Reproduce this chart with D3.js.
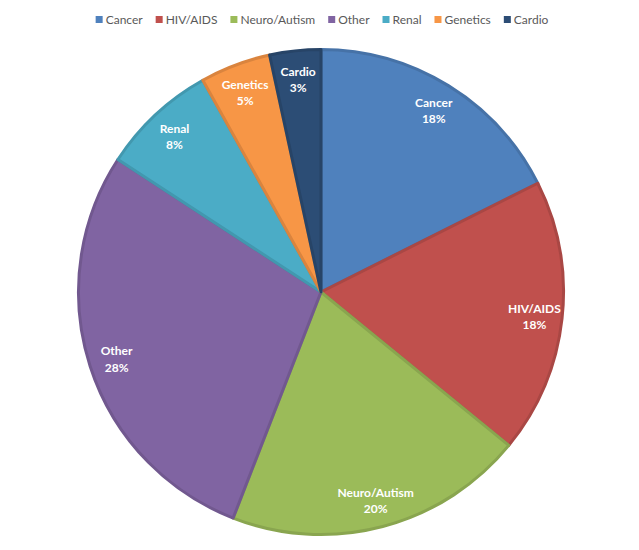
<!DOCTYPE html>
<html>
<head>
<meta charset="utf-8">
<script src="https://d3js.org/d3.v7.min.js"></script>
<style>
  body { margin: 0; background: #fff; }
  svg { display: block; }
</style>
</head>
<body>
<div id="pie"></div>
<script>
// data (shares in %, labels show rounded values)
const categories = ["Cancer", "HIV/AIDS", "Neuro/Autism", "Other", "Renal", "Genetics", "Cardio"];
const shares = [17.6, 18.3, 20.0, 28.3, 7.7, 4.7, 3.4];
const colors = ["#4F81BD", "#C0504D", "#9BBB59", "#8064A2", "#4BACC6", "#F79646", "#2C4D75"];

const width = 639, height = 550;
const cx = 321, cy = 292, radius = 244;

const data = categories.map((c, i) => ({ name: c, value: shares[i], color: colors[i] }));

const svg = d3.select('#pie')
  .append('svg')
  .attr('width', width)
  .attr('height', height);

const g = svg.append('g')
  .attr('transform', `translate(${cx}, ${cy})`);

const pie = d3.pie()
  .value(d => d.value)
  .sort(null);

const arc = d3.arc()
  .innerRadius(0)
  .outerRadius(radius - 1.5);

const labelArc = d3.arc()
  .innerRadius(radius * 0.88)
  .outerRadius(radius * 0.88);

const arcs = pie(data);

// slices, with a darker rim like the office bevel
g.selectAll('path.slice')
  .data(arcs)
  .enter()
  .append('path')
  .attr('class', 'slice')
  .attr('d', arc)
  .style('fill', d => d.data.color)
  .style('stroke', d => d3.color(d.data.color).darker(0.35))
  .style('stroke-width', 3)
  .style('stroke-linejoin', 'round');

// labels
const total = d3.sum(shares);
const labels = g.selectAll('text.label')
  .data(arcs)
  .enter()
  .append('text')
  .attr('class', 'label')
  .attr('transform', d => `translate(${labelArc.centroid(d)})`)
  .attr('text-anchor', 'middle')
  .style('font-family', 'Lato, "Open Sans", sans-serif')
  .style('font-weight', 'bold')
  .style('font-size', '12px')
  .style('fill', '#ffffff');

labels.append('tspan')
  .attr('x', 0)
  .attr('dy', '-0.2em')
  .text(d => d.data.name);

labels.append('tspan')
  .attr('x', 0)
  .attr('dy', '1.35em')
  .text(d => Math.round(d.data.value / total * 100) + '%');

// legend on top, laid out left to right then centred
const legend = svg.append('g').attr('class', 'legend');
let xPos = 0;
data.forEach(d => {
  const item = legend.append('g').attr('transform', `translate(${xPos}, 0)`);
  item.append('rect')
    .attr('x', 0)
    .attr('y', -4)
    .attr('width', 7)
    .attr('height', 7)
    .style('fill', d.color);
  const t = item.append('text')
    .attr('x', 10)
    .attr('y', 4)
    .style('font-family', 'Lato, "Open Sans", sans-serif')
    .style('font-size', '12px')
    .style('fill', '#595959')
    .text(d.name);
  xPos += 10 + t.node().getComputedTextLength() + 13;
});
const legendWidth = xPos - 13;
legend.attr('transform', `translate(${322 - legendWidth / 2}, 20)`);
</script>
</body>
</html>
